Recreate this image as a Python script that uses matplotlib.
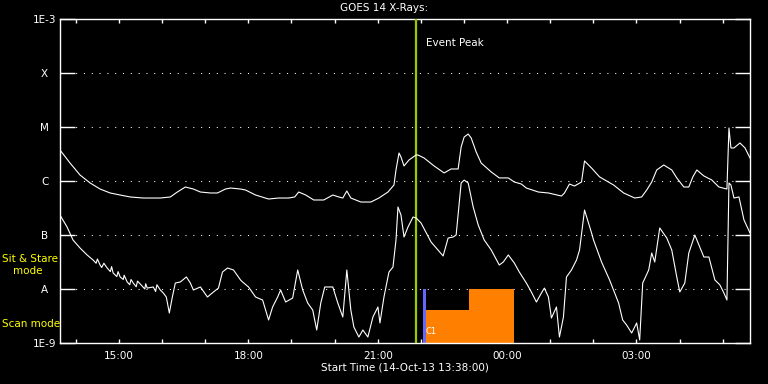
import numpy as np
import matplotlib
matplotlib.use("Agg")
import matplotlib.pyplot as plt

# hours since 14-Oct-13 00:00, flux in W/m^2
t_long = [13.633, 13.866, 14.098, 14.331, 14.563, 14.796, 15.028, 15.261, 15.563, 15.959,
          16.191, 16.354, 16.540, 16.726, 16.889, 17.121, 17.284, 17.470, 17.586, 17.819,
          17.935, 18.168, 18.470, 18.703, 18.935, 19.075, 19.168, 19.331, 19.517, 19.749,
          19.959, 20.098, 20.191, 20.284, 20.377, 20.610, 20.842, 21.028, 21.238, 21.377,
          21.424, 21.494, 21.540, 21.610, 21.726, 21.889, 21.935, 22.075, 22.307, 22.540,
          22.703, 22.865, 22.935, 23.005, 23.098, 23.168, 23.284, 23.400, 23.633, 23.819,
          24.028, 24.168, 24.331, 24.447, 24.726, 24.959, 25.261, 25.331, 25.447, 25.563,
          25.726, 25.796, 25.959, 26.145, 26.470, 26.703, 26.959, 27.121, 27.238, 27.354,
          27.470, 27.633, 27.819, 27.935, 28.098, 28.214, 28.307, 28.400, 28.563, 28.749,
          28.912, 29.098, 29.145, 29.191, 29.261, 29.400, 29.517, 29.633]
f_long = [3.75e-6, 2.15e-6, 1.29e-6, 9.2e-7, 7.1e-7, 6.0e-7, 5.5e-7, 5.06e-7, 4.84e-7, 4.84e-7,
          5.06e-7, 6.25e-7, 7.74e-7, 7.1e-7, 6.25e-7, 6.0e-7, 6.0e-7, 7.1e-7, 7.41e-7, 7.1e-7,
          6.81e-7, 5.5e-7, 4.64e-7, 4.84e-7, 4.84e-7, 5.06e-7, 6.25e-7, 5.5e-7, 4.45e-7, 4.45e-7,
          5.5e-7, 5.06e-7, 4.84e-7, 6.53e-7, 4.84e-7, 4.08e-7, 4.08e-7, 4.84e-7, 6.25e-7, 8.43e-7,
          1.6e-6, 3.3e-6, 2.78e-6, 1.9e-6, 2.45e-6, 3.03e-6, 3.03e-6, 2.67e-6, 1.9e-6, 1.41e-6,
          1.67e-6, 1.67e-6, 4.27e-6, 6.53e-6, 7.41e-6, 6.25e-6, 3.44e-6, 2.15e-6, 1.47e-6, 1.14e-6,
          1.14e-6, 9.58e-7, 8.79e-7, 7.41e-7, 6.25e-7, 6.0e-7, 5.27e-7, 6.0e-7, 8.79e-7, 8.07e-7,
          9.58e-7, 2.35e-6, 1.74e-6, 1.19e-6, 8.43e-7, 6.0e-7, 4.84e-7, 5.06e-7, 6.81e-7, 9.58e-7,
          1.6e-6, 1.98e-6, 1.6e-6, 1.14e-6, 7.74e-7, 7.74e-7, 1.19e-6, 1.6e-6, 1.24e-6, 1.04e-6,
          7.74e-7, 7.1e-7, 9.58e-6, 4.09e-6, 4.09e-6, 5.06e-6, 4.09e-6, 2.67e-6]

t_short = [13.633, 13.796, 13.935, 14.098, 14.261, 14.400, 14.47, 14.50, 14.563, 14.60,
           14.65, 14.726, 14.80, 14.83, 14.865, 14.95, 14.98, 15.028, 15.10, 15.12,
           15.191, 15.25, 15.28, 15.331, 15.40, 15.43, 15.493, 15.60, 15.62, 15.656,
           15.796, 15.85, 15.88, 15.959, 16.028, 16.098, 16.168, 16.238, 16.307, 16.424,
           16.563, 16.656, 16.726, 16.889, 17.052, 17.191, 17.307, 17.400, 17.517, 17.656,
           17.819, 17.866, 18.005, 18.168, 18.331, 18.470, 18.563, 18.680, 18.749, 18.866,
           19.028, 19.145, 19.261, 19.377, 19.493, 19.586, 19.680, 19.772, 19.959, 20.075,
           20.191, 20.284, 20.377, 20.447, 20.563, 20.656, 20.772, 20.889, 21.005, 21.052,
           21.145, 21.261, 21.354, 21.424, 21.470, 21.540, 21.610, 21.703, 21.819, 21.889,
           22.005, 22.238, 22.517, 22.633, 22.749, 22.819, 22.935, 23.005, 23.098, 23.214,
           23.331, 23.470, 23.633, 23.819, 23.912, 24.028, 24.168, 24.284, 24.447, 24.563,
           24.680, 24.796, 24.865, 24.959, 25.028, 25.145, 25.214, 25.307, 25.377, 25.493,
           25.610, 25.680, 25.796, 25.959, 26.005, 26.191, 26.377, 26.586, 26.680, 26.772,
           26.889, 27.005, 27.075, 27.145, 27.284, 27.354, 27.424, 27.540, 27.703, 27.819,
           27.935, 28.005, 28.121, 28.214, 28.354, 28.563, 28.680, 28.819, 28.935, 29.028,
           29.098, 29.145, 29.191, 29.261, 29.377, 29.493, 29.633]
f_short = [2.34e-7, 1.41e-7, 8.07e-8, 5.74e-8, 4.27e-8, 3.44e-8, 3.0e-8, 3.6e-8, 2.78e-8, 2.5e-8,
           3.0e-8, 2.45e-8, 2.1e-8, 2.6e-8, 1.98e-8, 1.7e-8, 2.1e-8, 1.67e-8, 1.5e-8, 1.8e-8,
           1.35e-8, 1.2e-8, 1.5e-8, 1.29e-8, 1.1e-8, 1.4e-8, 1.24e-8, 1.0e-8, 1.25e-8, 1.04e-8,
           1.09e-8, 9.0e-9, 1.2e-8, 9.58e-9, 8.43e-9, 7.1e-9, 3.59e-9, 7.1e-9, 1.29e-8, 1.35e-8,
           1.67e-8, 1.29e-8, 9.58e-9, 1.09e-8, 7.1e-9, 8.8e-9, 1.04e-8, 2.06e-8, 2.45e-8, 2.25e-8,
           1.47e-8, 1.35e-8, 1.09e-8, 7.1e-9, 6.25e-9, 2.67e-9, 4.64e-9, 7.1e-9, 9.58e-9, 5.74e-9,
           6.81e-9, 2.25e-8, 9.58e-9, 5.5e-9, 4.08e-9, 1.74e-9, 5.5e-9, 1.09e-8, 1.09e-8, 5.5e-9,
           3.03e-9, 2.25e-8, 4.08e-9, 1.98e-9, 1.29e-9, 1.74e-9, 1.29e-9, 3.03e-9, 4.64e-9, 2.35e-9,
           7.1e-9, 2.06e-8, 2.55e-8, 8.07e-8, 3.3e-7, 2.34e-7, 9.18e-8, 1.41e-7, 2.15e-7, 2.07e-7,
           1.67e-7, 7.41e-8, 4.09e-8, 8.79e-8, 9.18e-8, 1.0e-7, 9.18e-7, 1.04e-6, 9.18e-7, 3.3e-7,
           1.53e-7, 8.07e-8, 5.27e-8, 2.78e-8, 3.16e-8, 4.27e-8, 3.03e-8, 2.06e-8, 1.29e-8, 8.8e-9,
           5.74e-9, 8.43e-9, 1.04e-8, 7.1e-9, 2.9e-9, 4.64e-9, 1.29e-9, 3.03e-9, 1.67e-8, 2.25e-8,
           3.44e-8, 5.27e-8, 2.9e-7, 1.09e-7, 8.07e-8, 3.16e-8, 1.47e-8, 5.5e-9, 2.67e-9, 2.15e-9,
           1.53e-9, 2.35e-9, 1.14e-9, 1.29e-8, 2.25e-8, 4.64e-8, 3.16e-8, 1.35e-7, 8.79e-8, 5.27e-8,
           1.67e-8, 8.8e-9, 1.29e-8, 4.64e-8, 1.0e-7, 3.91e-8, 3.91e-8, 1.47e-8, 1.19e-8, 8.43e-9,
           6.25e-9, 9.18e-7, 8.43e-7, 4.84e-7, 5.06e-7, 1.9e-7, 1.09e-7]

# observing mode blocks
mode_start = [22.05, 22.12, 23.117]
mode_end = [22.12, 23.117, 24.16]
mode_top = [1e-8, 4.1e-9, 1e-8]
mode_colors = ["#6666ff", "#ff8000", "#ff8000"]

event_peak = 21.877
t_start, t_end = 13.633, 29.633

ylevels = [1e-9, 1e-8, 1e-7, 1e-6, 1e-5, 1e-4, 1e-3]
ylabels = ["1E-9", "A", "B", "C", "M", "X", "1E-3"]
xticks = [15, 18, 21, 24, 27]
xlabels = ["15:00", "18:00", "21:00", "00:00", "03:00"]

fs = 7.5
fig = plt.figure(figsize=(7.68, 3.84), dpi=100, facecolor="black")
ax = fig.add_axes([60 / 768, 1 - 343 / 384, 690 / 768, 324 / 384], facecolor="black")
ax.set_yscale("log")
ax.set_ylim(1e-9, 1e-3)
ax.set_xlim(t_start, t_end)

for s, e, top, c in zip(mode_start, mode_end, mode_top, mode_colors):
    ax.bar(s, top - 1e-9, width=e - s, bottom=1e-9, align="edge", color=c, linewidth=0, zorder=2)

ax.axvline(event_peak, color="#99cc00", lw=1.6, zorder=3)
ax.plot(t_long, f_long, color="white", lw=0.8, zorder=4)
ax.plot(t_short, f_short, color="white", lw=0.8, zorder=4)

for y in ylevels[1:-1]:
    ax.axhline(y, color="white", lw=0.75, linestyle=(0, (1, 6.5)), zorder=1)

ax.set_yticks(ylevels)
ax.set_yticklabels(ylabels)
ax.yaxis.set_minor_locator(matplotlib.ticker.NullLocator())
ax.tick_params(axis="y", which="major", direction="in", length=10.8, width=1,
               color="white", labelcolor="white", labelsize=fs, left=True, right=True, pad=11)
for lab in ax.get_yticklabels():
    lab.set_horizontalalignment("center")

ax.set_xticks(xticks)
ax.set_xticklabels(xlabels)
ax.set_xticks(np.arange(14, 30), minor=True)
ax.tick_params(axis="x", which="both", direction="in", length=3.2, width=1,
               color="white", labelcolor="white", labelsize=fs, top=True, bottom=True, pad=6)

for sp in ax.spines.values():
    sp.set_color("white")
    sp.set_linewidth(1)

ax.text(event_peak + 0.25, 10 ** -3.45, "Event Peak", color="white", fontsize=fs, va="center")
ax.text(22.1, 1.6e-9, "C1", color="white", fontsize=6, va="center")

fig.text(0.5, 1 - 8 / 384, "GOES 14 X-Rays:", color="white", fontsize=fs, ha="center", va="center")
fig.text(405 / 768, 1 - 368 / 384, "Start Time (14-Oct-13 13:38:00)", color="white",
         fontsize=fs, ha="center", va="center")
fig.text(2 / 768, 1 - 259 / 384, "Sit & Stare", color="yellow", fontsize=fs, va="center")
fig.text(13 / 768, 1 - 271 / 384, "mode", color="yellow", fontsize=fs, va="center")
fig.text(2 / 768, 1 - 324 / 384, "Scan mode", color="yellow", fontsize=fs, va="center")

fig.savefig("out.png", dpi=100, facecolor="black")
